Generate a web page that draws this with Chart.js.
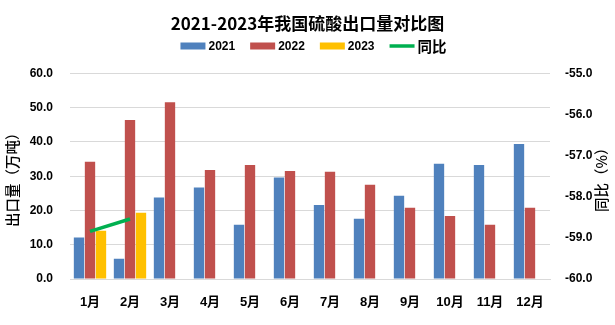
<!DOCTYPE html>
<html>
<head>
<meta charset="utf-8">
<script src="https://cdn.jsdelivr.net/npm/chart.js@4/dist/chart.umd.min.js"></script>
<style>
  html, body { margin: 0; padding: 0; background: #ffffff; }
  #wrap { width: 615px; height: 325px; }
</style>
</head>
<body>
<div id="wrap"><canvas id="c" width="615" height="325"></canvas></div>
<script>
// Monthly sulfuric acid exports (10k tonnes) and year-on-year change (%)
const months = ['1月', '2月', '3月', '4月', '5月', '6月', '7月', '8月', '9月', '10月', '11月', '12月'];
const export2021 = [12.1, 5.9, 23.8, 26.7, 15.8, 29.6, 21.6, 17.6, 24.3, 33.6, 33.3, 39.4];
const export2022 = [34.2, 46.4, 51.6, 31.8, 33.3, 31.5, 31.3, 27.5, 20.8, 18.4, 15.8, 20.8];
const export2023 = [14.1, 19.3, null, null, null, null, null, null, null, null, null, null];
const yoyChange = [-58.84, -58.54, null, null, null, null, null, null, null, null, null, null];
const seriesNames = ['2021', '2022', '2023', '同比'];

const LATIN = '"Liberation Sans", "Noto Sans CJK SC", sans-serif';
const CJK = '"Noto Sans CJK SC", "Liberation Sans", sans-serif';

// Draws the centred legend row and the right-hand axis title
const overlay = {
  id: 'overlay',
  afterDraw(chart) {
    const ctx = chart.ctx;
    ctx.save();
    const boxW = 25, boxH = 7, gap = 3, spacing = 15, cy = 46;
    const items = chart.data.datasets.map(ds => {
      const isLine = ds.type === 'line';
      const font = isLine ? 'bold 14.5px ' + CJK : 'bold 12px ' + LATIN;
      ctx.font = font;
      return { label: ds.label, isLine, font,
               color: isLine ? ds.borderColor : ds.backgroundColor,
               tw: ctx.measureText(ds.label).width };
    });
    let total = 0;
    items.forEach((it, i) => { total += boxW + gap + it.tw + (i < items.length - 1 ? spacing : 0); });
    let x = chart.width / 2 + 6 - total / 2;
    items.forEach(it => {
      if (it.isLine) {
        ctx.strokeStyle = it.color;
        ctx.lineWidth = 3.5;
        ctx.beginPath();
        ctx.moveTo(x, cy);
        ctx.lineTo(x + boxW, cy);
        ctx.stroke();
      } else {
        ctx.fillStyle = it.color;
        ctx.fillRect(x, cy - boxH / 2, boxW, boxH);
      }
      x += boxW + gap;
      ctx.font = it.font;
      ctx.fillStyle = '#000000';
      ctx.textAlign = 'left';
      ctx.textBaseline = 'middle';
      ctx.fillText(it.label, x, cy + 0.5);
      x += it.tw + spacing;
    });

    const area = chart.chartArea;
    ctx.translate(601, (area.top + area.bottom) / 2);
    ctx.rotate(-Math.PI / 2);
    ctx.font = '500 14.5px ' + CJK;
    ctx.fillStyle = '#000000';
    ctx.textAlign = 'center';
    ctx.textBaseline = 'middle';
    ctx.fillText('同比（%）', 0, 0);
    ctx.restore();
  }
};

new Chart(document.getElementById('c'), {
  data: {
    labels: months,
    datasets: [
      { type: 'bar', label: seriesNames[0], data: export2021, backgroundColor: '#4F81BD', yAxisID: 'y', order: 1 },
      { type: 'bar', label: seriesNames[1], data: export2022, backgroundColor: '#C0504D', yAxisID: 'y', order: 1 },
      { type: 'bar', label: seriesNames[2], data: export2023, backgroundColor: '#FFC000', yAxisID: 'y', order: 1 },
      { type: 'line', label: seriesNames[3], data: yoyChange, borderColor: '#00B050', backgroundColor: '#00B050',
        borderWidth: 3.5, pointRadius: 0, tension: 0, yAxisID: 'y1', order: 0 }
    ]
  },
  options: {
    responsive: false,
    animation: false,
    devicePixelRatio: 1,
    layout: { padding: { top: 0, left: 0, right: 0, bottom: 0 } },
    datasets: { bar: { categoryPercentage: 0.825, barPercentage: 0.94 } },
    plugins: {
      legend: { display: false },
      tooltip: { enabled: false },
      title: {
        display: true,
        text: '2021-2023年我国硫酸出口量对比图',
        color: '#000000',
        font: { family: CJK, size: 17, weight: 'bold' },
        padding: { top: 13, bottom: 40 }
      }
    },
    scales: {
      x: {
        grid: { display: false },
        border: { display: true, color: '#d9d9d9', width: 1 },
        ticks: { color: '#000000', font: { family: LATIN, size: 13, weight: 'bold' }, padding: 8, maxRotation: 0, autoSkip: false },
        afterFit(s) { s.height = 46; }
      },
      y: {
        position: 'left',
        min: 0, max: 60,
        grid: { color: '#d9d9d9', drawTicks: false },
        border: { display: false },
        ticks: { stepSize: 10, color: '#000000', padding: 17,
                 font: { family: LATIN, size: 12, weight: 'bold' },
                 callback: v => v.toFixed(1) },
        title: { display: true, text: '出口量（万吨）', color: '#000000',
                 font: { family: CJK, size: 14.5, weight: 500 }, padding: { top: 4, bottom: 0 } },
        afterFit(s) { s.width = 70; }
      },
      y1: {
        position: 'right',
        min: -60, max: -55,
        grid: { display: false, drawTicks: false },
        border: { display: false },
        ticks: { stepSize: 1, color: '#000000', padding: 15,
                 font: { family: LATIN, size: 12, weight: 'bold' },
                 callback: v => v.toFixed(1) },
        afterFit(s) { s.width = 65; }
      }
    }
  },
  plugins: [overlay]
});
</script>
</body>
</html>
